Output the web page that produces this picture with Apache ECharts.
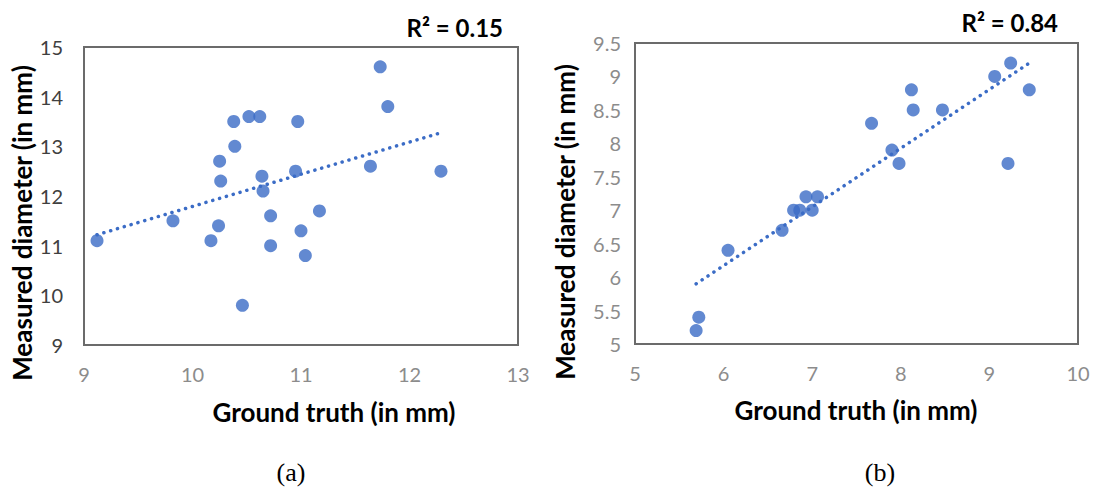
<!DOCTYPE html>
<html>
<head>
<meta charset="utf-8">
<script src="https://cdn.jsdelivr.net/npm/echarts@6/dist/echarts.min.js"></script>
<style>
  html, body { margin: 0; padding: 0; background: #fff; }
  #chart { width: 1094px; height: 491px; }
</style>
</head>
<body>
<div id="chart"></div>
<script>
// panel (a): ground truth vs measured diameter, mm
const truthA = [9.12, 9.82, 10.17, 10.24, 10.26, 10.25, 10.38, 10.39, 10.46, 10.52, 10.62, 10.64, 10.65, 10.72, 10.72, 10.95, 10.97, 11.0, 11.04, 11.17, 11.64, 11.73, 11.80, 12.29];
const measA = [11.1, 11.5, 11.1, 11.4, 12.3, 12.7, 13.5, 13.0, 9.8, 13.6, 13.6, 12.4, 12.1, 11.6, 11.0, 12.5, 13.5, 11.3, 10.8, 11.7, 12.6, 14.6, 13.8, 12.5];
const trendA = [[9.12, 11.22], [12.30, 13.28]];
const r2A = "R² = 0.15";

// panel (b)
const truthB = [5.69, 5.72, 6.05, 6.66, 6.79, 6.86, 7.0, 6.93, 7.06, 7.67, 7.90, 7.98, 8.12, 8.14, 8.47, 9.06, 9.21, 9.24, 9.45];
const measB = [5.2, 5.4, 6.4, 6.7, 7.0, 7.0, 7.0, 7.2, 7.2, 8.3, 7.9, 7.7, 8.8, 8.5, 8.5, 9.0, 7.7, 9.2, 8.8];
const trendB = [[5.69, 5.9], [9.45, 9.2]];
const r2B = "R² = 0.84";

const xTitle = "Ground truth (in mm)";
const yTitle = "Measured diameter (in mm)";

const blue = "#3b6cc6";
const font = "Lato";

function pairs(xs, ys) {
  return xs.map(function (x, i) { return [x, ys[i]]; });
}

function makeX(idx, min, max, step) {
  return {
    gridIndex: idx, type: "value", min: min, max: max, interval: step,
    axisLine: { show: false }, axisTick: { show: false }, splitLine: { show: false },
    axisLabel: { margin: 19, fontSize: 20, fontFamily: font, color: "#8c8c8c" }
  };
}
function makeY(idx, min, max, step, col, gap) {
  return {
    gridIndex: idx, type: "value", min: min, max: max, interval: step,
    axisLine: { show: false }, axisTick: { show: false }, splitLine: { show: false },
    axisLabel: { margin: gap, fontSize: 20, fontFamily: font, color: col }
  };
}

var myChart = echarts.init(document.getElementById("chart"), null, { renderer: "svg" });

const dotLine = { color: blue, width: 3.5, type: [0.1, 7], cap: "round" };

const option = {
  animation: false,
  grid: [
    { left: 84, top: 47, width: 434, height: 298, show: true, borderColor: "#6b6b6b", borderWidth: 2 },
    { left: 635, top: 43, width: 443, height: 301, show: true, borderColor: "#6b6b6b", borderWidth: 2 }
  ],
  xAxis: [makeX(0, 9, 13, 1), makeX(1, 5, 10, 1)],
  yAxis: [makeY(0, 9, 15, 1, "#404040", 21), makeY(1, 5, 9.5, 0.5, "#8c8c8c", 14)],
  series: [
    {
      type: "line", xAxisIndex: 0, yAxisIndex: 0, data: trendA,
      showSymbol: false, lineStyle: dotLine, z: 3
    },
    {
      type: "scatter", xAxisIndex: 0, yAxisIndex: 0, data: pairs(truthA, measA),
      symbolSize: 13, itemStyle: { color: blue }, z: 2
    },
    {
      type: "line", xAxisIndex: 1, yAxisIndex: 1, data: trendB,
      showSymbol: false, lineStyle: dotLine, z: 3
    },
    {
      type: "scatter", xAxisIndex: 1, yAxisIndex: 1, data: pairs(truthB, measB),
      symbolSize: 13, itemStyle: { color: blue }, z: 2
    }
  ],
  graphic: {
    elements: [
      { type: "text", x: 22, y: 223, rotation: Math.PI / 2,
        style: { text: yTitle, font: "bold 26px Lato", fill: "#000", align: "center", verticalAlign: "middle" } },
      { type: "text", x: 565, y: 222, rotation: Math.PI / 2,
        style: { text: yTitle, font: "bold 26px Lato", fill: "#000", align: "center", verticalAlign: "middle" } },
      { type: "text", x: 334, y: 412,
        style: { text: xTitle, font: "bold 26px Lato", fill: "#000", align: "center", verticalAlign: "middle" } },
      { type: "text", x: 856, y: 410,
        style: { text: xTitle, font: "bold 26px Lato", fill: "#000", align: "center", verticalAlign: "middle" } },
      { type: "text", x: 503, y: 27,
        style: { text: r2A, font: "bold 24px Lato", fill: "#000", align: "right", verticalAlign: "middle" } },
      { type: "text", x: 1058, y: 22,
        style: { text: r2B, font: "bold 24px Lato", fill: "#000", align: "right", verticalAlign: "middle" } },
      { type: "text", x: 291, y: 472,
        style: { text: "(a)", font: "26px 'Liberation Serif'", fill: "#000", align: "center", verticalAlign: "middle" } },
      { type: "text", x: 880, y: 472,
        style: { text: "(b)", font: "26px 'Liberation Serif'", fill: "#000", align: "center", verticalAlign: "middle" } }
    ]
  }
};
myChart.setOption(option);
</script>
</body>
</html>
